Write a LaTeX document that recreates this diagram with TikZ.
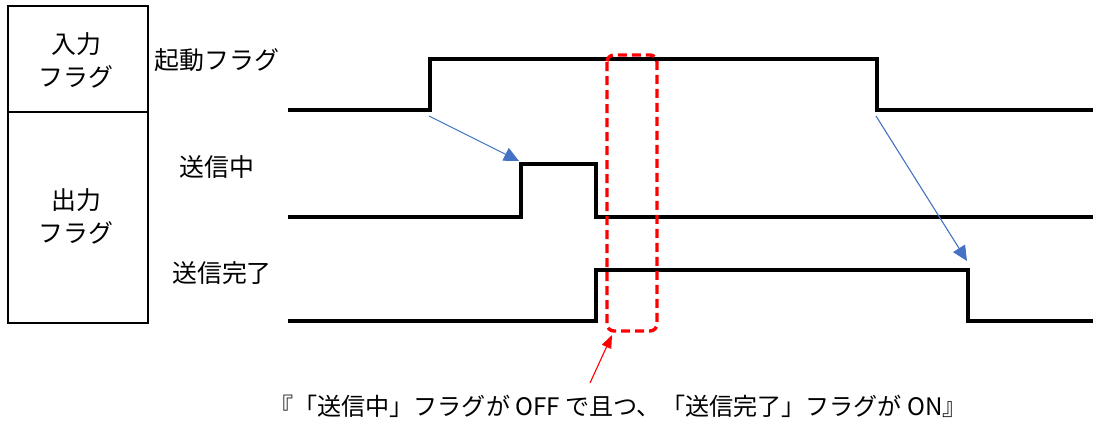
\documentclass[tikz,border=0pt]{standalone}
\usepackage{fontspec}
\setmainfont{Noto Sans CJK JP}
\usetikzlibrary{arrows.meta}
\definecolor{arrblue}{HTML}{4472C4}
\begin{document}
\begin{tikzpicture}[x=1bp,y=-1bp,
  sig/.style={line width=3.8bp,line join=miter},
  frame/.style={line width=1.4bp},
  lbl/.style={font=\fontsize{25}{29}\selectfont,inner sep=0pt},
  blarrow/.style={arrblue,line width=1.1bp,-{Triangle[length=15bp,width=14bp]}},
  redarrow/.style={red,line width=1.1bp,-{Triangle[length=13bp,width=10bp]}},
  redbox/.style={red,line width=3.4bp,dash pattern=on 9bp off 5bp,rounded corners=7bp}]
\useasboundingbox (0,0) rectangle (1101,426);
% left frame
\draw[frame] (8,6) rectangle (148,323);
\draw[frame] (8,112) -- (148,112);
\node[lbl] (in1) at (76,44) {入力};
\node[lbl] (in2) at (76,77) {フラグ};
\node[lbl] (out1) at (76,200) {出力};
\node[lbl] (out2) at (76,233) {フラグ};
% signal labels
\node[lbl] (lstart) at (217,60) {起動フラグ};
\node[lbl] (lbusy) at (217,167) {送信中};
\node[lbl] (ldone) at (222,273) {送信完了};
% signals
\coordinate (s1) at (430,110);
\coordinate (s2) at (877,110);
\coordinate (b1) at (521,164);
\coordinate (d2) at (968,270);
\draw[sig] (288,110) -- (s1) -- (430,59) -- (877,59) -- (s2) -- (1093,110);
\draw[sig] (288,217) -- (521,217) -- (b1) -- (596,164) -- (596,217) -- (1093,217);
\draw[sig] (288,321) -- (596,321) -- (596,270) -- (d2) -- (968,321) -- (1093,321);
% red dashed box
\draw[redbox] (607,55) rectangle (657,331);
\coordinate (boxtip) at (612,335);
% blue arrows
\coordinate (t1) at (429,116);
\coordinate (h1) at (519,161);
\coordinate (t2) at (876,116);
\coordinate (h2) at (967,261);
\draw[blarrow] (t1) -- (h1);
\draw[blarrow] (t2) -- (h2);
% caption
\node[font=\fontsize{24.2}{28}\selectfont,inner sep=0pt] (cap) at (618,406) {『「送信中」フラグが OFF で且つ、「送信完了」フラグが ON』};
\coordinate (rt) at (590,383);
\draw[redarrow] (rt) -- (boxtip);
\end{tikzpicture}
\end{document}
